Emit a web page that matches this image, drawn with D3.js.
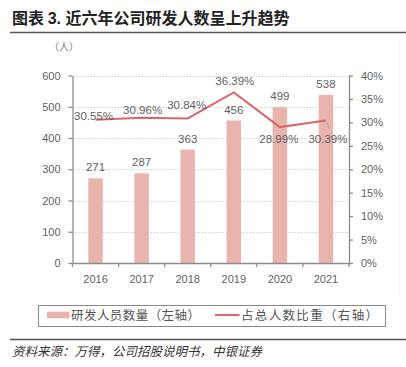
<!DOCTYPE html>
<html><head><meta charset="utf-8">
<script src="https://cdn.jsdelivr.net/npm/d3@7"></script>
<style>
html,body{margin:0;padding:0;background:#fff;}
svg{display:block;}
</style></head>
<body>
<svg id="c" width="406" height="367"></svg>
<script>
const years = ["2016","2017","2018","2019","2020","2021"];
const staff = [271, 287, 363, 456, 499, 538];
const share = [30.55, 30.96, 30.84, 36.39, 28.99, 30.39];
const leftTicks = [0,100,200,300,400,500,600];
const rightTicks = [0,5,10,15,20,25,30,35,40];
const shareLabelOffsets = [[-2,0],[1,-4],[-1,-9.5],[1,-7],[-1,16],[2,22]];

const svg = d3.select("#c");
const num = "'Liberation Sans', Arial, sans-serif";
const cjk = "'Noto Sans CJK SC', sans-serif";
const barColor = "#e9b3ae", lineColor = "#d9676a", axisColor = "#8c8c8c", txt = "#5f5f5f";

const x = d3.scaleBand().domain(years).range([72.5, 349]).padding(0);
const yL = d3.scaleLinear().domain([0,600]).range([263, 75.5]);
const yR = d3.scaleLinear().domain([0,40]).range([263, 75.5]);

// title
const t = svg.append("text").attr("x",12).attr("y",24).attr("font-weight","bold").attr("font-size",16).attr("fill","#222").attr("font-family",cjk);
t.append("tspan").text("图表 ");
t.append("tspan").attr("font-family",num).attr("font-size",16).text("3. ");
t.append("tspan").text("近六年公司研发人数呈上升趋势");
svg.append("line").attr("x1",10).attr("x2",406).attr("y1",32.5).attr("y2",32.5).attr("stroke","#555").attr("stroke-width",1.5);
svg.append("line").attr("x1",399).attr("x2",399).attr("y1",38).attr("y2",296).attr("stroke","#f2f2f2").attr("stroke-width",1);

svg.append("text").attr("x",49).attr("y",51).attr("font-size",10).attr("fill","#777").attr("font-family",cjk).text("（人）");

// grid
svg.append("g").selectAll("line").data(leftTicks.filter(d=>d>0)).join("line")
  .attr("x1",72.5).attr("x2",349).attr("y1",d=>Math.round(yL(d))+0.5).attr("y2",d=>Math.round(yL(d))+0.5)
  .attr("stroke","#d0d0d0").attr("stroke-dasharray","1.5,1.5").attr("stroke-width",1);

// bars
const bw = 14.5;
svg.append("g").selectAll("rect").data(staff).join("rect")
  .attr("x",(d,i)=>x(years[i])+x.bandwidth()/2-bw/2).attr("width",bw)
  .attr("y",d=>yL(d)).attr("height",d=>yL(0)-yL(d)).attr("fill",barColor);

// axes
function styleAxis(g){
  g.selectAll("path,line").attr("stroke",axisColor).attr("stroke-width",1.3);
  g.selectAll("text").attr("fill",txt).attr("font-size",11).attr("font-family",num);
}
svg.append("g").attr("transform","translate(72.5,0)")
  .call(d3.axisLeft(yL).tickValues(leftTicks).tickSize(4).tickSizeOuter(0).tickPadding(8))
  .call(styleAxis);
svg.append("g").attr("transform","translate(349,0)")
  .call(d3.axisRight(yR).tickValues(rightTicks).tickSize(4).tickSizeOuter(0).tickPadding(8).tickFormat(d=>d+"%"))
  .call(styleAxis);
const xa = svg.append("g").attr("transform","translate(0,263)")
  .call(d3.axisBottom(x).tickSize(0).tickSizeOuter(0).tickPadding(10))
  .call(styleAxis);
xa.selectAll(".tick text").attr("dy","0.95em");
svg.append("g").selectAll("line").data(years.slice(1).concat(["end"])).join("line")
  .attr("x1",d=>d==="end"?349:x(d)).attr("x2",d=>d==="end"?349:x(d))
  .attr("y1",263).attr("y2",267).attr("stroke",axisColor).attr("stroke-width",1.3);
svg.append("line").attr("x1",72.5).attr("x2",72.5).attr("y1",263).attr("y2",267).attr("stroke",axisColor).attr("stroke-width",1.3);

// bar labels
svg.append("g").selectAll("text").data(staff).join("text")
  .attr("x",(d,i)=>x(years[i])+x.bandwidth()/2).attr("y",d=>yL(d)-7)
  .attr("text-anchor","middle").attr("font-size",11.5).attr("fill",txt).attr("font-family",num).text(d=>d);

// line
const line = d3.line().x((d,i)=>x(years[i])+x.bandwidth()/2).y(d=>yR(d));
svg.append("path").datum(share).attr("d",line).attr("fill","none").attr("stroke",lineColor).attr("stroke-width",2);

// leader for last label
{
  const i = 5, cx = x(years[i])+x.bandwidth()/2, cy = yR(share[i]);
  svg.append("line").attr("x1",cx+1).attr("y1",cy+2).attr("x2",cx+3).attr("y2",cy+8).attr("stroke","#aaa").attr("stroke-width",1);
}
svg.append("g").selectAll("text").data(share).join("text")
  .attr("x",(d,i)=>x(years[i])+x.bandwidth()/2+shareLabelOffsets[i][0])
  .attr("y",(d,i)=>yR(d)+shareLabelOffsets[i][1])
  .attr("text-anchor","middle").attr("font-size",11.5).attr("fill",txt).attr("font-family",num)
  .text(d=>d.toFixed(2)+"%");

// legend
svg.append("rect").attr("x",38.5).attr("y",305.5).attr("width",347).attr("height",21).attr("fill","none").attr("stroke","#888").attr("stroke-width",1);
svg.append("rect").attr("x",47).attr("y",311.7).attr("width",22.5).attr("height",6.6).attr("fill",barColor);
svg.append("text").attr("x",71).attr("y",320).attr("font-size",12.5).attr("fill","#555").attr("font-family",cjk)
  .attr("textLength",129).attr("lengthAdjust","spacing").text("研发人员数量（左轴）");
svg.append("line").attr("x1",215).attr("x2",239.5).attr("y1",315).attr("y2",315).attr("stroke",lineColor).attr("stroke-width",2);
svg.append("text").attr("x",241).attr("y",320).attr("font-size",12.5).attr("fill","#555").attr("font-family",cjk)
  .attr("textLength",137).attr("lengthAdjust","spacing").text("占总人数比重（右轴）");

// bottom rule + source
svg.append("line").attr("x1",10).attr("x2",406).attr("y1",339.5).attr("y2",339.5).attr("stroke","#555").attr("stroke-width",1.5);
svg.append("text").attr("x",12).attr("y",356).attr("font-size",12.5).attr("font-style","italic").attr("fill","#333").attr("font-family",cjk).text("资料来源：万得，公司招股说明书，中银证券");
</script>
</body></html>
